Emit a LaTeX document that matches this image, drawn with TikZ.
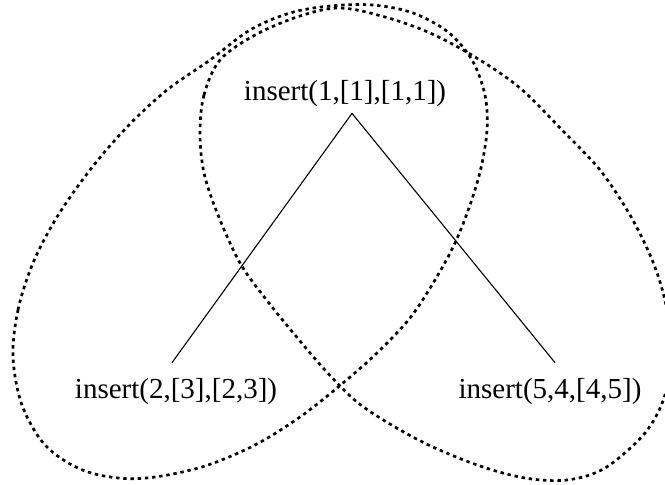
\documentclass[tikz,border=0pt]{standalone}
\usepackage{fontspec}
\setmainfont{Liberation Serif}
\begin{document}
\begin{tikzpicture}[x=1pt,y=-1pt,
  lbl/.style={font=\fontsize{29}{34}\selectfont, inner sep=0pt, anchor=base},
  edge/.style={line width=1.1pt},
  group/.style={line width=2.7pt, dash pattern=on 3.4pt off 3.8pt}]
\useasboundingbox (0,0) rectangle (665,485);
\node[lbl] (top) at (345,100) {insert(1,[1],[1,1])};
\node[lbl] (bl) at (176,398) {insert(2,[3],[2,3])};
\node[lbl] (br) at (550,398) {insert(5,4,[4,5])};
\draw[edge] ([xshift=7pt,yshift=-7pt]top.south) -- ([xshift=-4pt,yshift=15pt]bl.north);
\draw[edge] ([xshift=7pt,yshift=-7pt]top.south) -- ([xshift=5pt,yshift=15pt]br.north);
% left group
\draw[group] plot[smooth cycle, tension=0.55] coordinates {
 (13,357) (18,310) (33,263) (57,217) (90,170) (127,127) (167,90) (210,60)
 (250,30) (290,13) (330,6) (373,5) (413,13) (448,32) (472,60) (485,95)
 (487,130) (481,168) (470,205) (455,243) (435,280) (410,318) (378,352)
 (343,383) (300,417) (255,445) (205,466) (155,477) (118,478) (80,469)
 (45,445) (22,405)};
% right group
\draw[group] plot[smooth cycle, tension=0.55] coordinates {
 (200,133) (204,95) (220,60) (255,35) (300,16) (340,8) (385,17) (430,33)
 (475,57) (520,88) (563,131) (600,170) (630,215) (653,262) (666,305)
 (671,350) (665,395) (645,433) (605,468) (567,480) (525,478) (480,466)
 (433,447) (395,427) (357,402) (325,370) (295,335) (265,298) (240,263)
 (218,215) (204,173)};
\end{tikzpicture}
\end{document}
